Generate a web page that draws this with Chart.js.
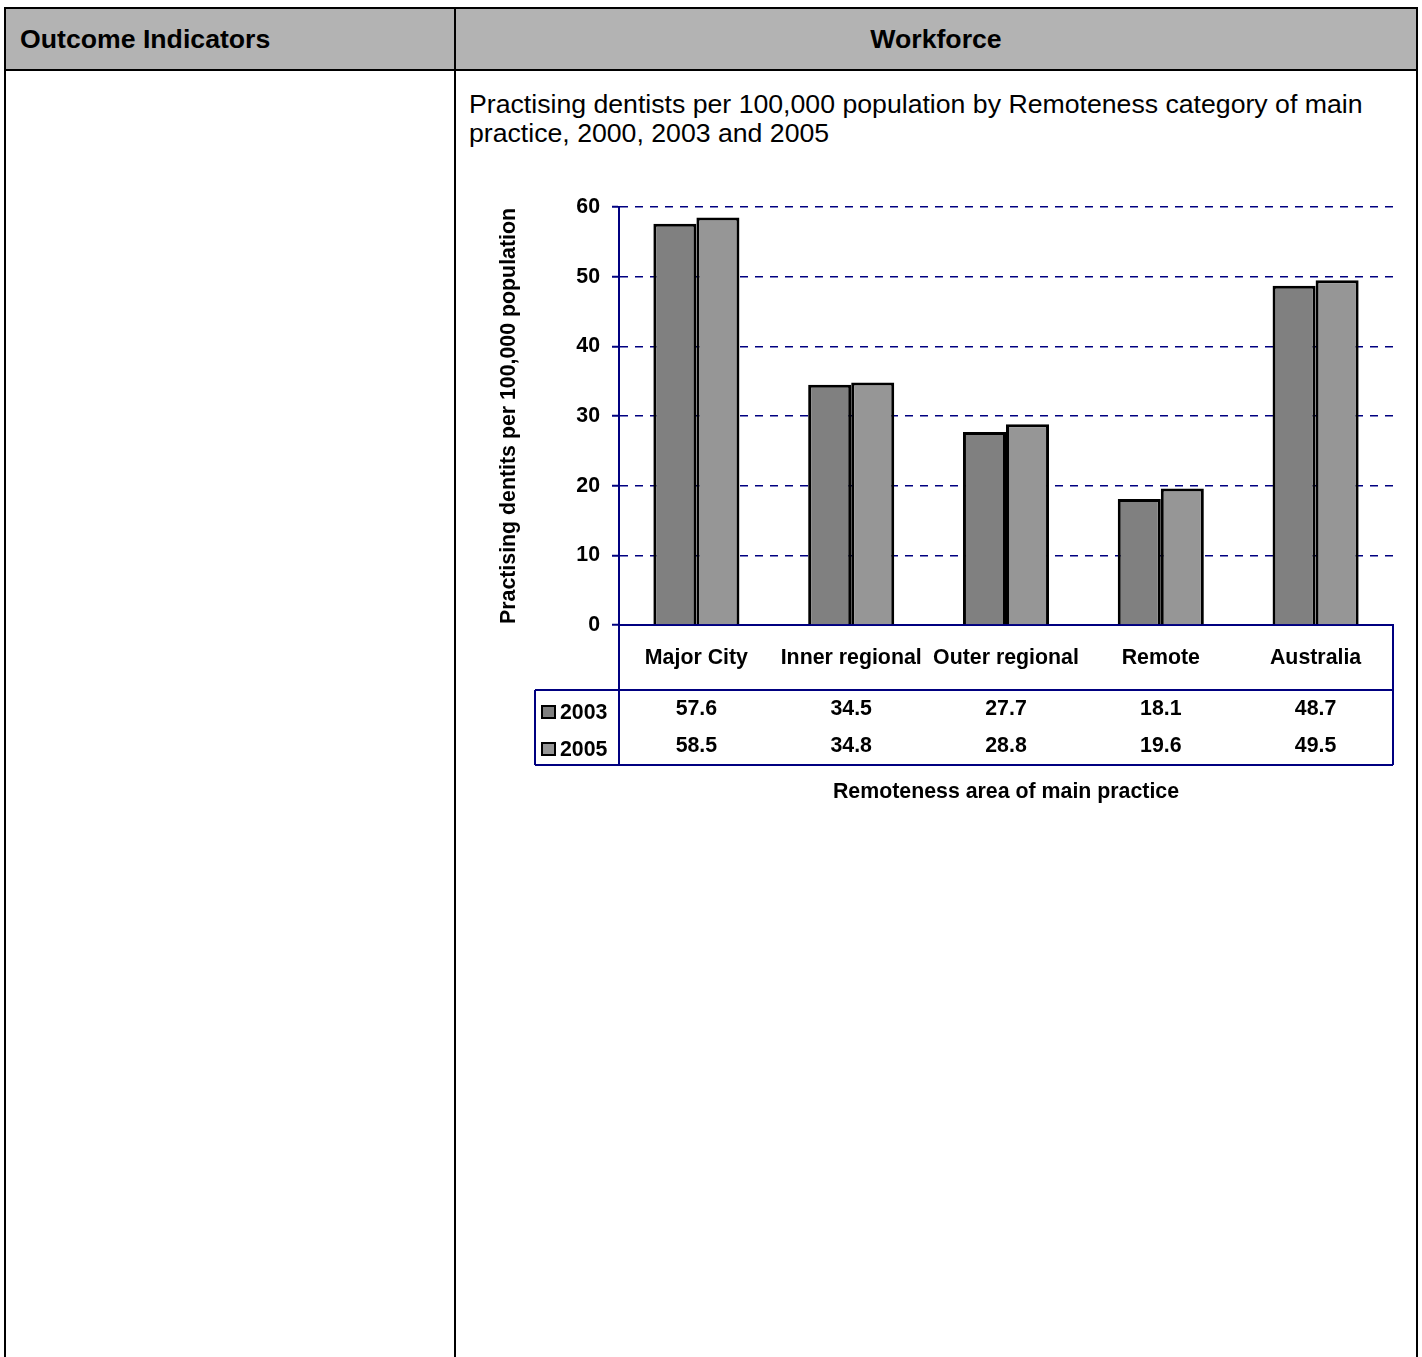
<!DOCTYPE html>
<html>
<head>
<meta charset="utf-8">
<script src="https://cdn.jsdelivr.net/npm/chart.js@4.4.0/dist/chart.umd.min.js"></script>
<style>
  html, body { margin: 0; padding: 0; background: #fff; overflow: hidden; }
  body { width: 1422px; height: 1357px; position: relative; font-family: Arial, "Liberation Sans", sans-serif; }
  .ln { position: absolute; background: #000; }
  .hd { position: absolute; top: 9px; height: 60px; line-height: 60px; font-weight: bold; font-size: 26.67px; color: #000; }
  #title { position: absolute; left: 469px; top: 90px; font-size: 26.67px; line-height: 29px; color: #000; }
  #wrap { position: absolute; left: 470px; top: 180px; width: 940px; height: 640px; }
</style>
</head>
<body>
<div class="ln" style="left:6px; top:9px; width:1410px; height:60px; background:#b3b3b3;"></div>
<div class="ln" style="left:4px; top:7px; width:1414px; height:2px;"></div>
<div class="ln" style="left:4px; top:69px; width:1414px; height:2px;"></div>
<div class="ln" style="left:4px; top:7px; width:2px; height:1400px;"></div>
<div class="ln" style="left:454px; top:7px; width:2px; height:1400px;"></div>
<div class="ln" style="left:1416px; top:7px; width:2px; height:1400px;"></div>
<div class="hd" style="left:20px;">Outcome Indicators</div>
<div class="hd" style="left:456px; width:960px; text-align:center;">Workforce</div>
<div id="title">Practising dentists per 100,000 population by Remoteness category of main<br>practice, 2000, 2003 and 2005</div>
<div id="wrap"><canvas id="chart1" width="940" height="640"></canvas></div>
<script>
var categories = ['Major City', 'Inner regional', 'Outer regional', 'Remote', 'Australia'];
var seriesNames = ['2003', '2005'];
var values2003 = [57.6, 34.5, 27.7, 18.1, 48.7];
var values2005 = [58.5, 34.8, 28.8, 19.6, 49.5];
var yTicks = [0, 10, 20, 30, 40, 50, 60];
var seriesColors = ['#808080', '#969696'];

var navy = '#000080';
var chartFont = { family: 'Arial, "Liberation Sans", sans-serif', size: 21.33, weight: 'bold' };

// draws the data table under the plot (category row + value rows + legend keys)
var dataTablePlugin = {
    id: 'dataTable',
    afterDraw: function (chart) {
        var ctx = chart.ctx;
        var a = chart.chartArea;
        var x = chart.scales.x;
        var legendLeft = a.left - 84;
        var rowTop = a.bottom + 65;
        var rowBottom = a.bottom + 140;

        ctx.save();
        ctx.strokeStyle = navy;
        ctx.lineWidth = 2;
        ctx.beginPath();
        ctx.moveTo(a.left, a.bottom); ctx.lineTo(a.left, rowBottom);
        ctx.moveTo(a.right, a.bottom); ctx.lineTo(a.right, rowBottom);
        ctx.moveTo(legendLeft, rowTop); ctx.lineTo(a.right, rowTop);
        ctx.moveTo(legendLeft, rowBottom); ctx.lineTo(a.right, rowBottom);
        ctx.moveTo(legendLeft, rowTop); ctx.lineTo(legendLeft, rowBottom);
        ctx.stroke();

        ctx.font = 'bold 21.33px Arial, "Liberation Sans", sans-serif';
        ctx.fillStyle = '#000';
        ctx.textBaseline = 'middle';

        chart.data.datasets.forEach(function (ds, r) {
            var cy = a.bottom + 85 + r * 37;
            // legend key
            ctx.fillStyle = ds.backgroundColor;
            ctx.fillRect(legendLeft + 7, cy - 4, 13, 12);
            ctx.strokeStyle = '#000';
            ctx.lineWidth = 2;
            ctx.strokeRect(legendLeft + 7, cy - 4, 13, 12);
            ctx.fillStyle = '#000';
            ctx.textAlign = 'left';
            ctx.fillText(ds.label, legendLeft + 25, cy + 3);
            // values
            ctx.textAlign = 'center';
            ds.data.forEach(function (v, i) {
                ctx.fillText(v.toFixed(1), x.getPixelForValue(i), cy - 1);
            });
        });
        ctx.restore();
    }
};

var chartCanvas1 = document.getElementById('chart1');
var configCanvas1 = {
    type: 'bar',
    data: {
        labels: categories,
        datasets: [{
            label: seriesNames[0],
            data: values2003,
            backgroundColor: seriesColors[0],
            borderColor: '#000',
            borderWidth: 3
        }, {
            label: seriesNames[1],
            data: values2005,
            backgroundColor: seriesColors[1],
            borderColor: '#000',
            borderWidth: 3
        }]
    },
    options: {
        responsive: false,
        animation: false,
        devicePixelRatio: 1,
        layout: { padding: { top: 27, right: 17, left: 0, bottom: 0 } },
        datasets: { bar: { barPercentage: 1, categoryPercentage: 0.556 } },
        plugins: {
            legend: { display: false },
            tooltip: { enabled: false }
        },
        scales: {
            x: {
                afterFit: function (scale) { scale.height = 195; },
                grid: { display: false, drawTicks: false, tickLength: 0 },
                border: { display: true, color: navy, width: 2 },
                ticks: {
                    font: chartFont, color: '#000', padding: 20,
                    autoSkip: false, maxRotation: 0, minRotation: 0
                },
                title: {
                    display: true,
                    text: 'Remoteness area of main practice',
                    font: chartFont, color: '#000',
                    padding: { top: 0, bottom: 15 }
                }
            },
            y: {
                min: 0,
                max: 60,
                afterFit: function (scale) { scale.width = 149; },
                afterBuildTicks: function (scale) {
                    scale.ticks = yTicks.map(function (v) { return { value: v }; });
                },
                grid: {
                    color: navy, lineWidth: 1.5,
                    tickLength: 7, tickColor: navy, tickWidth: 2, tickBorderDash: []
                },
                border: { display: true, color: navy, width: 2, dash: [8, 7] },
                ticks: { font: chartFont, color: '#000', padding: 12 },
                title: {
                    display: true,
                    text: 'Practising dentits per 100,000 population',
                    font: chartFont, color: '#000',
                    padding: { top: 26, bottom: 0 }
                }
            }
        }
    },
    plugins: [dataTablePlugin]
};

var myChart1 = new Chart(chartCanvas1, configCanvas1);
</script>
</body>
</html>
